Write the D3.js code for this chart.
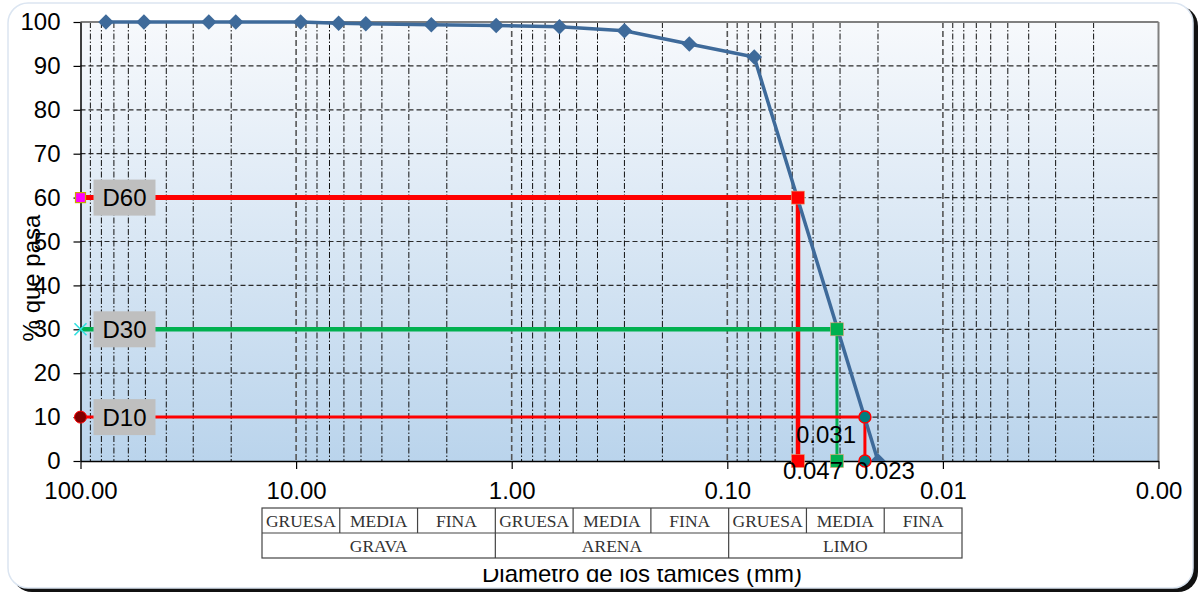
<!DOCTYPE html>
<html>
<head>
<meta charset="utf-8">
<script src="https://cdn.jsdelivr.net/npm/d3@7"></script>
<style>
body { margin: 0; background: #fff; }
svg { display: block; font-family: "Liberation Sans", Arial, sans-serif; }
</style>
</head>
<body>
<svg id="chart"></svg>
<script>
// curva granulometrica
let diametros = [76.2, 50.8, 25.4, 19.05, 9.525, 6.35, 4.75, 2.36, 1.18, 0.6, 0.3, 0.15, 0.075, 0.02]
let pasa = [100, 100, 100, 100, 100, 99.7, 99.6, 99.4, 99.2, 98.9, 98.0, 95.0, 92.0, 0]

// D60, D30, D10
let dNombres = ['D60', 'D30', 'D10']
let dPorcentajes = [60, 30, 10]
let dDiametros = [0.047, 0.031, 0.023]
let dEtiquetas = ['0.047', '0.031', '0.023']

let xTicks = [100, 10, 1, 0.1, 0.01, 0.001]
let yTicks = [0, 10, 20, 30, 40, 50, 60, 70, 80, 90, 100]

let subclases = ['GRUESA', 'MEDIA', 'FINA', 'GRUESA', 'MEDIA', 'FINA', 'GRUESA', 'MEDIA', 'FINA']
let clases = ['GRAVA', 'ARENA', 'LIMO']

let width = 1199
let height = 592
let pLeft = 80.5
let pRight = 1158.5
let pTop = 22
let pBottom = 461

let svg = d3.select('#chart').attr('width', width).attr('height', height)

let xScale = d3.scaleLog().domain([100, 0.001]).range([pLeft, pRight])
let yScale = d3.scaleLinear().domain([0, 100]).range([pBottom, pTop])

let defs = svg.append('defs')
let grad = defs.append('linearGradient').attr('id', 'fondo')
    .attr('x1', 0).attr('y1', 0).attr('x2', 0).attr('y2', 1)
grad.append('stop').attr('offset', '0%').attr('stop-color', '#f7f9fc')
grad.append('stop').attr('offset', '100%').attr('stop-color', '#bad4ec')
defs.append('clipPath').attr('id', 'area')
    .append('rect').attr('x', pLeft).attr('y', pTop - 10)
    .attr('width', pRight - pLeft).attr('height', pBottom - pTop + 10)

// marco
svg.append('rect')
   .attr('x', 12).attr('y', 6).attr('width', 1186).attr('height', 586)
   .attr('rx', 20).attr('fill', '#111')
svg.append('rect')
   .attr('x', 8).attr('y', 3).attr('width', 1185).attr('height', 585)
   .attr('rx', 20).attr('fill', '#fff').attr('stroke', '#dbe5f1').attr('stroke-width', 1.5)

svg.append('rect')
   .attr('x', pLeft).attr('y', pTop)
   .attr('width', pRight - pLeft).attr('height', pBottom - pTop)
   .attr('fill', 'url(#fondo)')

// rejilla
let grid = svg.append('g')
grid.selectAll('.h')
    .data(yTicks.filter(d => d > 0 && d < 100))
    .enter().append('line')
    .attr('x1', pLeft).attr('x2', pRight)
    .attr('y1', d => yScale(d)).attr('y2', d => yScale(d))
    .attr('stroke', '#2a2a2a').attr('stroke-width', 1.2).attr('stroke-dasharray', '5,3')

let esMayor = d => Math.abs(Math.log10(d) - Math.round(Math.log10(d))) < 1e-6
let vTicks = xScale.ticks().filter(d => d < 100 && d > 0.001)
grid.selectAll('.v')
    .data(vTicks)
    .enter().append('line')
    .attr('x1', d => xScale(d)).attr('x2', d => xScale(d))
    .attr('y1', pTop).attr('y2', pBottom)
    .attr('stroke', d => esMayor(d) ? '#555' : '#111')
    .attr('stroke-width', d => esMayor(d) ? 1.6 : 1)
    .attr('stroke-dasharray', d => esMayor(d) ? '6,3' : '6,2,1.5,2')

// bordes
svg.append('line').attr('x1', pLeft).attr('x2', pRight).attr('y1', pTop).attr('y2', pTop)
   .attr('stroke', '#808080').attr('stroke-width', 2)
svg.append('line').attr('x1', pRight).attr('x2', pRight).attr('y1', pTop).attr('y2', pBottom)
   .attr('stroke', '#808080').attr('stroke-width', 2)

// ejes
let yAxis = d3.axisLeft(yScale).tickValues(yTicks).tickSize(7).tickSizeOuter(0).tickPadding(13)
let xAxis = d3.axisBottom(xScale).tickValues(xTicks).tickFormat(d3.format('.2f'))
              .tickSize(8).tickSizeOuter(0).tickPadding(13)

let gy = svg.append('g').attr('transform', 'translate(' + pLeft + ',0)').call(yAxis)
let gx = svg.append('g').attr('transform', 'translate(0,' + pBottom + ')').call(xAxis)
;[gx, gy].forEach(g => {
    g.select('.domain').attr('stroke', '#000').attr('stroke-width', 1.5)
    g.selectAll('.tick line').attr('stroke', '#000').attr('stroke-width', 1.2)
    g.selectAll('.tick text').attr('font-size', 24).attr('fill', '#000')
     .attr('font-family', '"Liberation Sans", Arial, sans-serif')
})

// lineas D
let estilos = [
    {color: '#ff0000', h: 5, v: 4.5},
    {color: '#00b050', h: 4.5, v: 3},
    {color: '#ff0000', h: 3, v: 3}
]
let dGroup = svg.append('g')
dNombres.forEach((n, i) => {
    let px = xScale(dDiametros[i])
    let py = yScale(dPorcentajes[i])
    dGroup.append('line').attr('x1', pLeft).attr('x2', px).attr('y1', py).attr('y2', py)
          .attr('stroke', estilos[i].color).attr('stroke-width', estilos[i].h)
    dGroup.append('line').attr('x1', px).attr('x2', px).attr('y1', py).attr('y2', yScale(0))
          .attr('stroke', estilos[i].color).attr('stroke-width', estilos[i].v)
})

// curva
let puntos = diametros.map((d, i) => [d, pasa[i]])
let curva = svg.append('g').attr('clip-path', 'url(#area)')
curva.append('path')
     .datum(puntos)
     .attr('d', d3.line().x(d => xScale(d[0])).y(d => yScale(d[1])))
     .attr('fill', 'none').attr('stroke', '#3e6a9a').attr('stroke-width', 3.5)
curva.selectAll('.p')
     .data(puntos)
     .enter().append('path')
     .attr('d', d3.symbol(d3.symbolSquare, 120))
     .attr('transform', d => 'translate(' + xScale(d[0]) + ',' + yScale(d[1]) + ') rotate(45)')
     .attr('fill', '#3e6a9a')

// marcadores D
dNombres.forEach((n, i) => {
    let px = xScale(dDiametros[i])
    let py = yScale(dPorcentajes[i])
    let g = svg.append('g')
    ;[py, yScale(0)].forEach(yy => {
        if (i < 2) {
            g.append('rect').attr('x', px - 6.5).attr('y', yy - 6.5).attr('width', 13).attr('height', 13)
             .attr('fill', estilos[i].color).attr('stroke', '#e8a070').attr('stroke-width', 0.6)
        } else {
            g.append('circle').attr('cx', px).attr('cy', yy).attr('r', 6)
             .attr('fill', '#007f7f').attr('stroke', '#ff0000').attr('stroke-width', 1.5)
        }
    })
})

// marcadores izquierdos
svg.append('rect').attr('x', pLeft - 5).attr('y', yScale(dPorcentajes[0]) - 5)
   .attr('width', 10).attr('height', 10)
   .attr('fill', '#ff00ff').attr('stroke', '#c8a800').attr('stroke-width', 1.2)
let y30 = yScale(dPorcentajes[1])
svg.append('path')
   .attr('d', 'M' + (pLeft - 6) + ',' + (y30 - 6) + 'L' + (pLeft + 6) + ',' + (y30 + 6) +
              'M' + (pLeft - 6) + ',' + (y30 + 6) + 'L' + (pLeft + 6) + ',' + (y30 - 6))
   .attr('stroke', '#30e0e0').attr('stroke-width', 1.6)
svg.append('circle').attr('cx', pLeft).attr('cy', yScale(dPorcentajes[2])).attr('r', 6)
   .attr('fill', '#800000').attr('stroke', '#ff0000').attr('stroke-width', 1)

// etiquetas D
dNombres.forEach((n, i) => {
    let py = yScale(dPorcentajes[i])
    svg.append('rect').attr('x', pLeft + 13).attr('y', py - 18)
       .attr('width', 62).attr('height', 36).attr('fill', '#bfbfbf')
    svg.append('text').attr('x', pLeft + 44).attr('y', py).attr('dy', '0.35em')
       .attr('text-anchor', 'middle').attr('font-size', 24).text(n)
})

// etiquetas de valores
let desplaz = [[15, 18], [-11, -18], [20, 18]]
dEtiquetas.forEach((t, i) => {
    svg.append('text')
       .attr('x', xScale(dDiametros[i]) + desplaz[i][0])
       .attr('y', yScale(0) + desplaz[i][1])
       .attr('text-anchor', 'middle').attr('font-size', 24).text(t)
})

// titulos
svg.append('text')
   .attr('transform', 'translate(40,278) rotate(-90)')
   .attr('text-anchor', 'middle').attr('font-size', 24).text('% que pasa')
svg.append('text')
   .attr('x', 642).attr('y', 582)
   .attr('text-anchor', 'middle').attr('font-size', 24).text('Diametro de los tamices (mm)')

// tabla de clasificacion
let tx0 = 262, tx1 = 962, ty0 = 508, ty1 = 533, ty2 = 558
let colW = (tx1 - tx0) / subclases.length
let tabla = svg.append('g').attr('font-family', '"Liberation Serif", "Times New Roman", serif')
tabla.append('rect').attr('x', tx0 - 2).attr('y', ty0 - 3)
     .attr('width', tx1 - tx0 + 4).attr('height', 569 - ty0 + 3).attr('fill', '#fff')
tabla.append('rect').attr('x', tx0).attr('y', ty0)
     .attr('width', tx1 - tx0).attr('height', ty2 - ty0)
     .attr('fill', 'none').attr('stroke', '#444').attr('stroke-width', 1.2)
tabla.append('line').attr('x1', tx0).attr('x2', tx1).attr('y1', ty1).attr('y2', ty1)
     .attr('stroke', '#444').attr('stroke-width', 1.2)
subclases.forEach((s, i) => {
    if (i > 0) {
        tabla.append('line').attr('x1', tx0 + i * colW).attr('x2', tx0 + i * colW)
             .attr('y1', ty0).attr('y2', i % 3 == 0 ? ty2 : ty1)
             .attr('stroke', '#444').attr('stroke-width', 1.2)
    }
    tabla.append('text').attr('x', tx0 + (i + 0.5) * colW).attr('y', ty1 - 6)
         .attr('text-anchor', 'middle').attr('font-size', 17.5).attr('fill', '#333').text(s)
})
clases.forEach((c, i) => {
    tabla.append('text').attr('x', tx0 + (i * 3 + 1.5) * colW).attr('y', ty2 - 6)
         .attr('text-anchor', 'middle').attr('font-size', 17.5).attr('fill', '#333').text(c)
})
</script>
</body>
</html>
